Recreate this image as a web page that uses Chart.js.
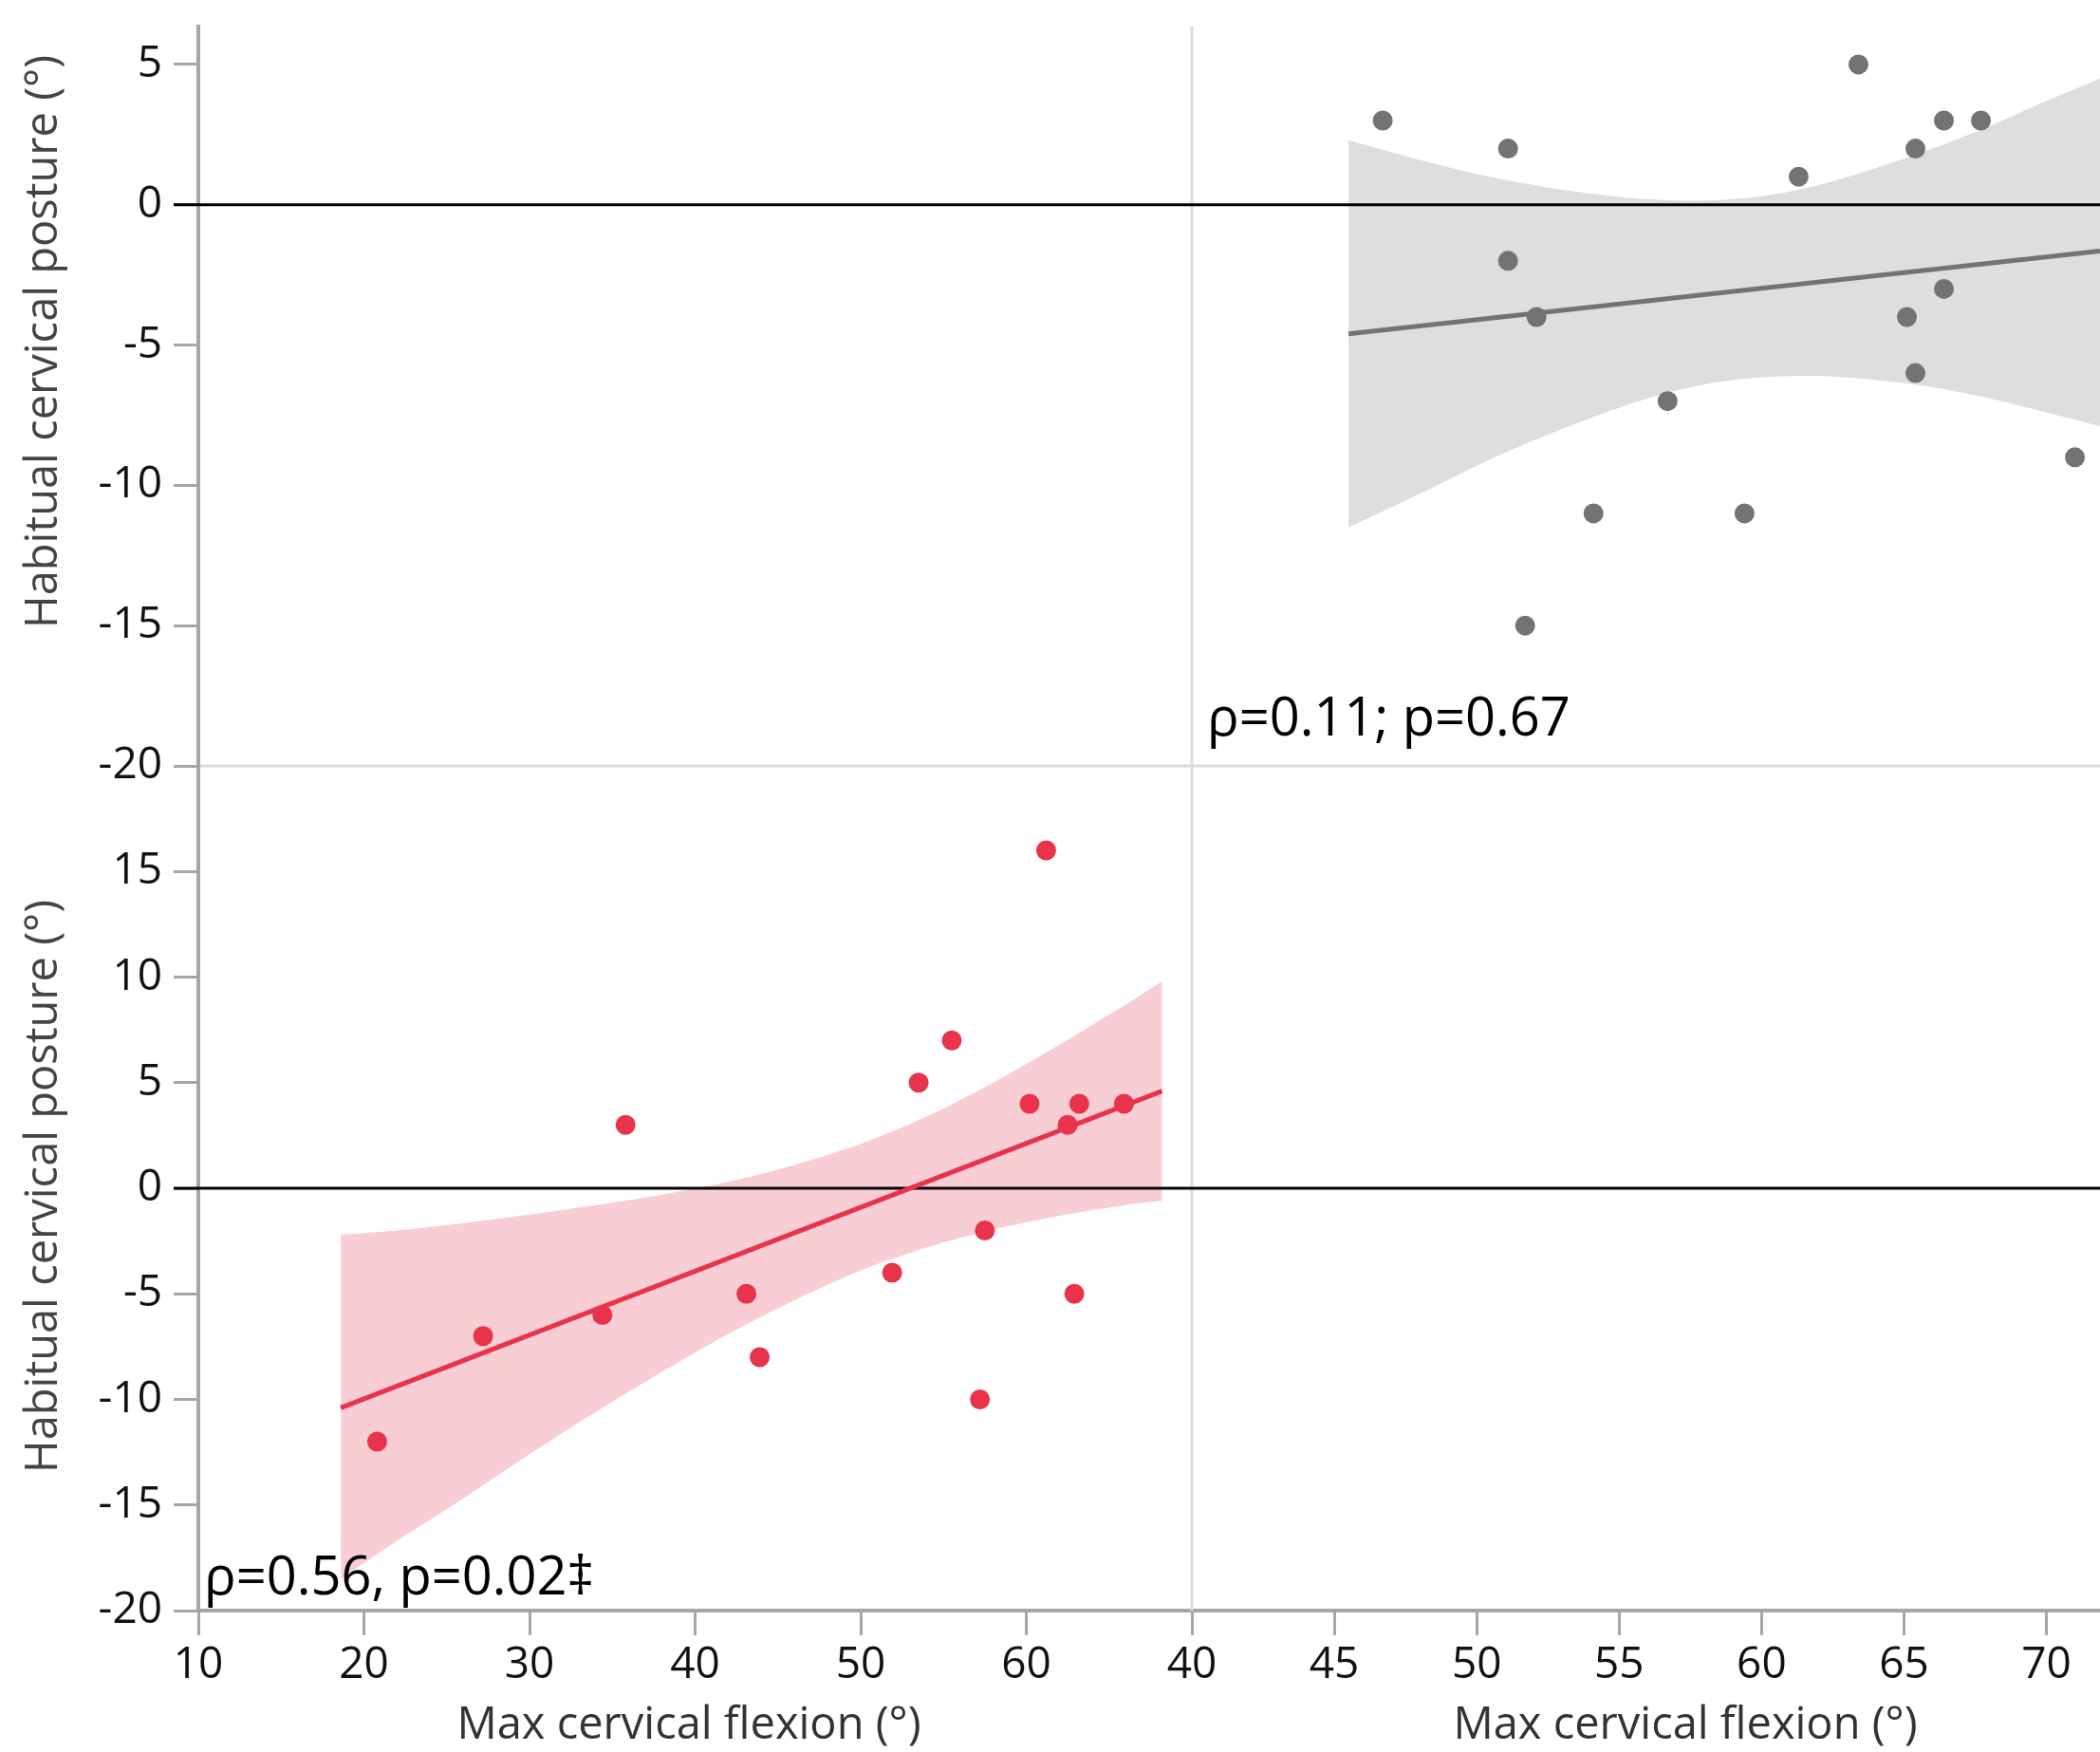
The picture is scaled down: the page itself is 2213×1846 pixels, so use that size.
<!DOCTYPE html>
<html>
<head>
<meta charset="utf-8">
<script src="https://cdn.jsdelivr.net/npm/chart.js@4.4.1/dist/chart.umd.min.js"></script>
<style>
html,body{margin:0;padding:0;background:#fff;overflow:hidden}
canvas{display:block}
</style>
</head>
<body>
<canvas id="c" width="2213" height="1846"></canvas>
<script>
// ---- texts ----
const xTitle = 'Max cervical flexion (°)';
const yTitle = 'Habitual cervical posture (°)';
const topNote = 'ρ=0.11; p=0.67';
const bottomNote = 'ρ=0.56, p=0.02‡';

// ---- top panel (grey group) ----
const grayX = [46.7, 51.1, 63.4, 66.4, 67.7, 65.4, 61.3, 51.1, 52.1, 66.4, 65.1, 65.4, 56.7, 71.0, 54.1, 59.4, 51.7];
const grayY = [3, 2, 5, 3, 3, 2, 1, -2, -4, -3, -4, -6, -7, -9, -11, -11, -15];
const grayFitX = [45.5, 71.88];
const grayFitY = [-4.6, -1.65];
const grayBandX = [45.5, 48, 50, 52, 54, 56, 58, 60, 62, 64, 66, 68, 70, 71.88];
const grayBandUpper = [2.3, 1.6, 1.1, 0.7, 0.4, 0.2, 0.15, 0.3, 0.7, 1.3, 2.0, 2.8, 3.7, 4.5];
const grayBandLower = [-11.5, -10.3, -9.3, -8.4, -7.6, -6.9, -6.4, -6.15, -6.1, -6.25, -6.5, -6.9, -7.4, -7.9];

// ---- bottom panel (red group) ----
const redX = [20.8, 27.2, 34.4, 35.8, 43.1, 43.9, 51.9, 53.5, 55.5, 57.2, 57.5, 60.2, 61.2, 62.5, 62.9, 63.2, 65.9];
const redY = [-12, -7, -6, 3, -5, -8, -4, 5, 7, -10, -2, 4, 16, 3, -5, 4, 4];
const redFitX = [18.6, 68.2];
const redFitY = [-10.4, 4.6];
const redBandX = [18.6, 22, 26, 30, 34, 38, 42, 46, 50, 54, 58, 62, 66, 68.2];
const redBandUpper = [-2.2, -2.0, -1.65, -1.25, -0.8, -0.3, 0.3, 1.1, 2.1, 3.4, 5.0, 6.8, 8.7, 9.8];
const redBandLower = [-18.5, -16.7, -14.7, -12.6, -10.6, -8.7, -6.9, -5.3, -3.9, -2.8, -1.95, -1.3, -0.8, -0.6];

// ---- axes ----
const topYRange = [-20, 6.35];
const bottomYRange = [-20, 20];
const leftXRange = [10, 70];
const rightXRange = [40, 71.88];

const pts = (xs, ys) => xs.map((x, i) => ({x: x, y: ys[i]}));

const FONT = "'Open Sans', 'Noto Sans', 'DejaVu Sans', sans-serif";
const AXIS_GRAY = '#a6a6a6';
const DIV_GRAY = '#dcdcdc';
const RED = 'rgb(232,51,74)';
const PINK = '#f9cdd4';
const GREY = '#737373';
const GREY_BAND = '#dedede';

const tickFont = {family: FONT, size: 46};

function yScale(weight, range, hideMax) {
  return {
    type: 'linear', axis: 'y', position: 'left', stack: 'v', stackWeight: weight,
    min: range[0], max: range[1],
    ticks: {
      stepSize: 5, includeBounds: false, autoSkip: false, padding: 12, color: '#111', font: tickFont,
      callback: v => (hideMax && v === range[1]) ? '' : String(v)
    },
    grid: {drawOnChartArea: false, tickLength: 26, color: AXIS_GRAY, lineWidth: 3},
    border: {display: true, color: AXIS_GRAY, width: 4},
    afterFit: s => { s.width = 209; s.paddingTop = 0; s.paddingBottom = 0; }
  };
}
function xScale(weight, range, step, hideMax) {
  return {
    type: 'linear', axis: 'x', position: 'bottom', stack: 'h', stackWeight: weight,
    min: range[0], max: range[1],
    ticks: {
      stepSize: step, includeBounds: false, autoSkip: false, padding: 4, color: '#111', font: tickFont, maxRotation: 0,
      callback: v => (hideMax && v === range[1]) ? '' : String(v)
    },
    grid: {drawOnChartArea: false, tickLength: 26, color: AXIS_GRAY, lineWidth: 3},
    border: {display: true, color: AXIS_GRAY, width: 4},
    afterFit: s => { s.height = 149; s.paddingLeft = 0; s.paddingRight = 0; }
  };
}

const panelPlugin = {
  id: 'panelPlugin',
  beforeDatasetsDraw(chart) {
    const {ctx, chartArea, scales} = chart;
    ctx.save();
    ctx.strokeStyle = DIV_GRAY;
    ctx.lineWidth = 3;
    const vx = scales.xR.left;
    ctx.beginPath();
    ctx.moveTo(vx, chartArea.top);
    ctx.lineTo(vx, chartArea.bottom);
    const hy = scales.yTop.bottom;
    ctx.moveTo(chartArea.left + 2, hy);
    ctx.lineTo(chartArea.right, hy);
    ctx.stroke();
    ctx.restore();
  },
  afterDatasetDraw(chart, args) {
    if (!chart.data.datasets[args.index].zeroAfter) return;
    const {ctx, chartArea, scales} = chart;
    ctx.save();
    ctx.strokeStyle = '#000';
    ctx.lineWidth = 3;
    ['yTop', 'yBot'].forEach(id => {
      const y = scales[id].getPixelForValue(0);
      ctx.beginPath();
      ctx.moveTo(chartArea.left - 26, y);
      ctx.lineTo(chartArea.right, y);
      ctx.stroke();
    });
    ctx.restore();
  },
  afterDraw(chart) {
    const {ctx, scales} = chart;
    ctx.save();
    // axis titles
    ctx.font = `47px ${FONT}`;
    ctx.fillStyle = '#333';
    ctx.textAlign = 'center';
    ctx.textBaseline = 'alphabetic';
    ctx.fillText(xTitle, 726, 1832);
    ctx.fillText(xTitle, 1776, 1832);
    ctx.fillStyle = '#444';
    [[360], [1250]].forEach(([cy]) => {
      ctx.save();
      ctx.translate(60, cy);
      ctx.rotate(-Math.PI / 2);
      ctx.fillText(yTitle, 0, 0);
      ctx.restore();
    });
    // correlation notes
    ctx.font = `56px ${FONT}`;
    ctx.fillStyle = '#000';
    ctx.textAlign = 'left';
    ctx.fillText(topNote, scales.xR.left + 16, scales.yTop.bottom - 32);
    ctx.fillText(bottomNote, scales.xL.left + 6, scales.yBot.bottom - 17);
    ctx.restore();
  }
};

const lineDs = (data, color, width, order, xId, yId) => ({
  data, showLine: true, borderColor: color, borderWidth: width, pointRadius: 0,
  fill: false, order, xAxisID: xId, yAxisID: yId, tension: 0
});

new Chart(document.getElementById('c'), {
  type: 'scatter',
  data: {
    datasets: [
      {data: pts(redX, redY), backgroundColor: RED, pointRadius: 10.5, pointBorderWidth: 0,
       order: 0, xAxisID: 'xL', yAxisID: 'yBot'},
      {data: pts(grayX, grayY), backgroundColor: GREY, pointRadius: 10.5, pointBorderWidth: 0,
       order: 0, xAxisID: 'xR', yAxisID: 'yTop'},
      lineDs(pts(redFitX, redFitY), RED, 5, 1, 'xL', 'yBot'),
      lineDs(pts(grayFitX, grayFitY), GREY, 5, 1, 'xR', 'yTop'),
      {data: pts(redBandX, redBandUpper), showLine: true, borderWidth: 0, borderColor: 'transparent',
       pointRadius: 0, fill: '+1', backgroundColor: PINK, order: 2, tension: 0.3,
       xAxisID: 'xL', yAxisID: 'yBot', zeroAfter: true},
      {data: pts(redBandX, redBandLower), showLine: true, borderWidth: 0, borderColor: 'transparent',
       pointRadius: 0, fill: false, order: 2, tension: 0.3, xAxisID: 'xL', yAxisID: 'yBot'},
      {data: pts(grayBandX, grayBandUpper), showLine: true, borderWidth: 0, borderColor: 'transparent',
       pointRadius: 0, fill: '+1', backgroundColor: GREY_BAND, order: 2, tension: 0.3,
       xAxisID: 'xR', yAxisID: 'yTop'},
      {data: pts(grayBandX, grayBandLower), showLine: true, borderWidth: 0, borderColor: 'transparent',
       pointRadius: 0, fill: false, order: 2, tension: 0.3, xAxisID: 'xR', yAxisID: 'yTop'}
    ]
  },
  options: {
    responsive: false,
    devicePixelRatio: 1,
    animation: false,
    layout: {autoPadding: false, padding: {top: 28, left: 0, right: 0, bottom: 0}},
    plugins: {legend: {display: false}, tooltip: {enabled: false}},
    scales: {
      yBot: yScale(890, bottomYRange, true),
      yTop: yScale(779, topYRange, false),
      xL: xScale(1047, leftXRange, 10, true),
      xR: xScale(957, rightXRange, 5, false)
    }
  },
  plugins: [panelPlugin]
});
</script>
</body>
</html>
